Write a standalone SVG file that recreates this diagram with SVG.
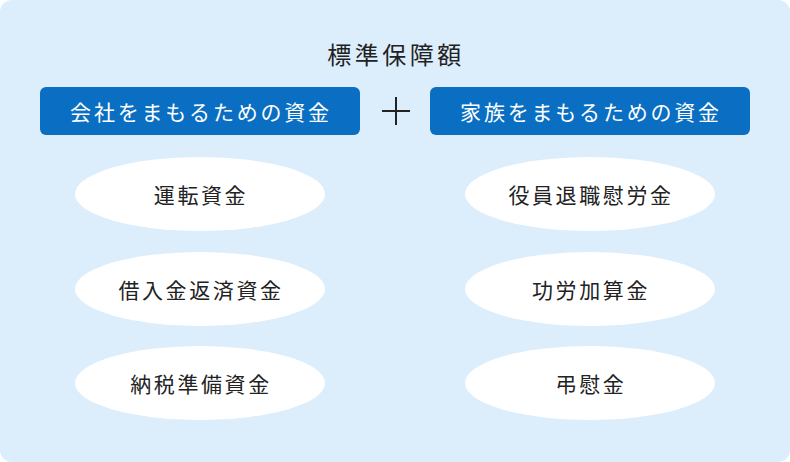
<svg xmlns="http://www.w3.org/2000/svg" width="790" height="462" viewBox="0 0 790 462">
<style>
text{font-family:"Noto Sans CJK JP","Noto Sans",sans-serif;text-anchor:middle;dominant-baseline:central;font-weight:400}
.h{fill:#0a6fc2}
.ht{fill:#fff;font-size:21px;letter-spacing:2.8px}
.e{fill:#fff}
.et{fill:#222;font-size:21px;letter-spacing:2.6px}
</style>
<rect x="0" y="0" width="790" height="462" rx="12" fill="#dcedfb"/>
<text x="396" y="53" font-size="24" fill="#222" style="letter-spacing:3.5px">標準保障額</text>
<g id="left-header"><rect class="h" x="40" y="87" width="320" height="48" rx="6"/><text class="ht" x="201" y="111">会社をまもるための資金</text></g>
<g id="plus"><path d="M382 111H410M396 97V125" stroke="#222" stroke-width="2" fill="none"/></g>
<g id="right-header"><rect class="h" x="430" y="87" width="320" height="48" rx="6"/><text class="ht" x="591" y="111">家族をまもるための資金</text></g>
<g id="n1"><ellipse class="e" cx="200" cy="194" rx="125" ry="37"/><text class="et" x="201" y="194">運転資金</text></g>
<g id="n2"><ellipse class="e" cx="200" cy="289" rx="125" ry="37"/><text class="et" x="201" y="289">借入金返済資金</text></g>
<g id="n3"><ellipse class="e" cx="200" cy="383" rx="125" ry="37"/><text class="et" x="201" y="383">納税準備資金</text></g>
<g id="n4"><ellipse class="e" cx="590" cy="194" rx="125" ry="37"/><text class="et" x="591" y="194">役員退職慰労金</text></g>
<g id="n5"><ellipse class="e" cx="590" cy="289" rx="125" ry="37"/><text class="et" x="591" y="289">功労加算金</text></g>
<g id="n6"><ellipse class="e" cx="590" cy="383" rx="125" ry="37"/><text class="et" x="591" y="383">弔慰金</text></g>
<g id="connectors"></g>
</svg>
